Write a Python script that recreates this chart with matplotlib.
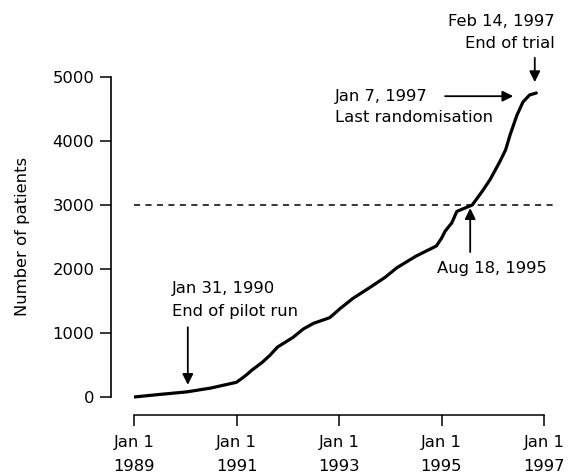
import numpy as np
import matplotlib
matplotlib.use("Agg")
import matplotlib.pyplot as plt

# cumulative recruitment (decimal years, patients)
years = [1989.0, 1989.5, 1990.03, 1990.5, 1991.0, 1991.12, 1991.2, 1991.3,
         1991.5, 1991.65, 1991.8, 1992.1, 1992.3, 1992.5, 1992.82, 1993.02,
         1993.27, 1993.6, 1993.9, 1994.13, 1994.5, 1994.9, 1995.0, 1995.07,
         1995.2, 1995.3, 1995.6, 1995.8, 1995.95, 1996.14, 1996.25, 1996.34,
         1996.47, 1996.59, 1996.72, 1996.85]
patients = [0, 40, 80, 140, 230, 300, 350, 420, 540, 650, 780, 930, 1060,
            1150, 1240, 1380, 1540, 1710, 1870, 2020, 2200, 2360, 2480, 2590,
            2720, 2900, 3000, 3220, 3400, 3680, 3860, 4100, 4400, 4610, 4720,
            4750]

target = 3000
xtick_years = [1989, 1991, 1993, 1995, 1997]
xtick_labels = ["Jan 1\n1989", "Jan 1\n1991", "Jan 1\n1993", "Jan 1\n1995", "Jan 1\n1997"]
ytick_vals = [0, 1000, 2000, 3000, 4000, 5000]

plt.rcParams['font.family'] = ['DejaVu Sans']
fs = 11.8

W, H = 573, 475
fig = plt.figure(figsize=(W / 100, H / 100), dpi=100)

# axes placed so 1989 -> px 134, 1997 -> px 544, 0 -> px 397, 5000 -> px 77
px_per_year = 51.25
px_per_pat = 64 / 1000
xlim = (1989.0, 1997.4)
ylim = (-50, 5000)
left = 134
right = left + (xlim[1] - xlim[0]) * px_per_year
bottom = 397 + 50 * px_per_pat
top = 397 - 5000 * px_per_pat
ax = fig.add_axes([left / W, 1 - bottom / H, (right - left) / W, (bottom - top) / H])

ax.plot(years, patients, color='black', lw=2.3, solid_capstyle='round')
ax.plot([1989.0, 1997.28], [target, target], color='black', lw=1.1,
        linestyle=(0, (4, 3.5)))

ax.set_xlim(*xlim)
ax.set_ylim(*ylim)

for s in ['top', 'right']:
    ax.spines[s].set_visible(False)
ax.spines['left'].set_position(('outward', 23 * 0.72))
ax.spines['bottom'].set_position(('outward', 15 * 0.72))
ax.spines['left'].set_bounds(0, 5000)
ax.spines['bottom'].set_bounds(1989, 1997)
ax.spines['left'].set_linewidth(1.2)
ax.spines['bottom'].set_linewidth(1.1)

ax.set_xticks(xtick_years)
ax.set_xticklabels(xtick_labels, fontsize=fs, linespacing=1.75)
ax.set_yticks(ytick_vals)
ax.set_yticklabels([str(v) for v in ytick_vals], fontsize=fs)
ax.tick_params(axis='x', direction='out', length=8, width=1.1, pad=6)
ax.tick_params(axis='y', direction='out', length=8, width=1.1, pad=4)

fig.text(23 / W, 1 - 236 / H, "Number of patients", rotation=90,
         ha='center', va='center', fontsize=fs)

arrow = dict(arrowstyle='-|>', lw=1.3, color='black', mutation_scale=16,
             shrinkA=0, shrinkB=0)

# end of pilot run
ax.annotate("", xy=(1990.05, 190), xytext=(1990.05, 1090), arrowprops=arrow)
ax.text(1989.74, 1690, "Jan 31, 1990", fontsize=fs, va='center', ha='left')
ax.text(1989.74, 1330, "End of pilot run", fontsize=fs, va='center', ha='left')

# target reached
ax.annotate("", xy=(1995.56, 2950), xytext=(1995.56, 2265), arrowprops=arrow)
ax.text(1994.91, 2015, "Aug 18, 1995", fontsize=fs, va='center', ha='left')

# last randomisation
ax.annotate("", xy=(1996.40, 4700), xytext=(1995.07, 4700), arrowprops=arrow)
ax.text(1992.92, 4700, "Jan 7, 1997", fontsize=fs, va='center', ha='left')
ax.text(1992.92, 4360, "Last randomisation", fontsize=fs, va='center', ha='left')

# end of trial
ax.annotate("", xy=(1996.82, 4920), xytext=(1996.82, 5300), arrowprops=arrow,
            annotation_clip=False)
ax.text(1997.21, 5860, "Feb 14, 1997", fontsize=fs, va='center', ha='right',
        clip_on=False)
ax.text(1997.21, 5530, "End of trial", fontsize=fs, va='center', ha='right',
        clip_on=False)

fig.savefig("out.png", dpi=100)
